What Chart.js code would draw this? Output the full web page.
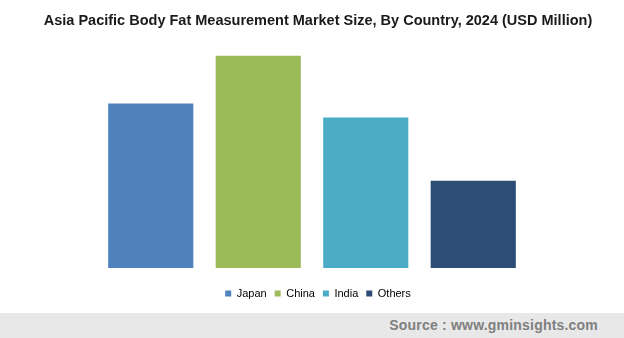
<!DOCTYPE html>
<html lang="en">
<head>
    <meta charset="UTF-8">
    <title>Asia Pacific Body Fat Measurement Market</title>
    <script src="https://cdn.jsdelivr.net/npm/chart.js"></script>
    <style>
        body { margin: 0; background: #fff; }
        #wrap { position: relative; width: 624px; height: 338px; }
        #footer {
            position: absolute; left: 0; top: 313px; width: 624px; height: 25px;
            background: #e8e8e8;
        }
        #footer span {
            position: absolute; right: 26px; top: 4px;
            font: bold 14px "Liberation Sans", Arial, sans-serif; color: #7f7f7f;
            letter-spacing: 0.2px;
        }
    </style>
</head>
<body>
    <div id="wrap">
        <canvas id="marketChart" width="624" height="338"></canvas>
        <div id="footer"><span>Source : www.gminsights.com</span></div>
    </div>

    <script>
        // values (relative)
        const countries = ['Japan', 'China', 'India', 'Others'];
        const marketSize = [164, 212, 150, 87];
        const barColors = ['#4f81bd', '#9bbb59', '#4bacc6', '#2c4d75'];

        // hidden axis used only to reserve side space
        const spacer = (position, width) => ({
            position: position,
            display: true,
            grid: { display: false },
            border: { display: false },
            ticks: { display: false },
            afterFit: axis => { axis.width = width; }
        });

        const ctx = document.getElementById('marketChart').getContext('2d');
        new Chart(ctx, {
            type: 'bar',
            data: {
                labels: countries,
                datasets: [{
                    label: 'Market Size',
                    data: marketSize,
                    backgroundColor: barColors,
                    borderWidth: 0,
                    categoryPercentage: 0.8,
                    barPercentage: 0.99
                }]
            },
            options: {
                responsive: false,
                animation: false,
                layout: {
                    padding: { left: 12, right: 0, bottom: 29 }
                },
                scales: {
                    x: {
                        display: true,
                        grid: { display: false },
                        border: { display: false },
                        ticks: { display: false },
                        afterFit: axis => { axis.height = 12; }
                    },
                    y: Object.assign(spacer('left', 85), { min: 0, max: 212 }),
                    yRight: Object.assign(spacer('right', 97), { min: 0, max: 212 })
                },
                plugins: {
                    title: {
                        display: true,
                        text: 'Asia Pacific Body Fat Measurement Market Size, By Country, 2024 (USD Million)',
                        color: '#1a1a1a',
                        font: { family: '"Liberation Sans", Arial, sans-serif', size: 14.5, weight: 'bold' },
                        padding: { top: 12, bottom: 26 }
                    },
                    legend: {
                        position: 'bottom',
                        labels: {
                            color: '#666666',
                            font: { family: '"Liberation Sans", Arial, sans-serif', size: 11 },
                            boxWidth: 6,
                            boxHeight: 6,
                            padding: 8,
                            generateLabels: chart => countries.map((c, i) => ({
                                text: c,
                                fillStyle: barColors[i],
                                strokeStyle: barColors[i],
                                lineWidth: 0,
                                index: i
                            }))
                        }
                    },
                    tooltip: { enabled: false }
                }
            }
        });
    </script>
</body>
</html>
